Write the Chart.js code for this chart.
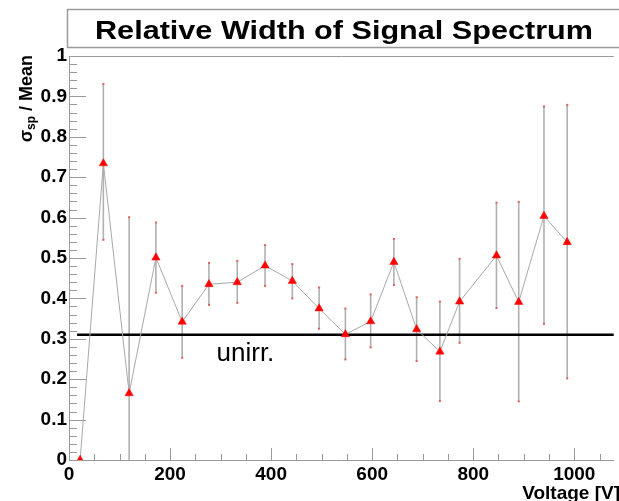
<!DOCTYPE html>
<html>
<head>
<meta charset="utf-8">
<script src="https://cdn.jsdelivr.net/npm/chart.js@4.4.1/dist/chart.umd.min.js"></script>
<style>
  html, body { margin: 0; padding: 0; background: #fff; }
  #wrap { width: 619px; height: 501px; position: relative; }
</style>
</head>
<body>
<div id="wrap"><canvas id="widthChart"></canvas></div>
<script>
// data
var voltage  = [22, 68, 119, 172, 224, 277, 333, 388, 442, 495, 547, 597, 643, 688, 734, 773, 846, 890, 940, 986];
var relWidth = [0, 0.734, 0.165, 0.501, 0.342, 0.435, 0.44, 0.481, 0.443, 0.375, 0.311, 0.343, 0.49, 0.3235, 0.268, 0.392, 0.506, 0.391, 0.604, 0.539];
var errUpper = [0, 0.931, 0.601, 0.588, 0.431, 0.488, 0.493, 0.532, 0.485, 0.427, 0.375, 0.41, 0.547, 0.403, 0.392, 0.498, 0.637, 0.639, 0.875, 0.879];
var errLower = [0, 0.545, 0, 0.414, 0.253, 0.384, 0.389, 0.431, 0.40, 0.325, 0.249, 0.279, 0.433, 0.245, 0.146, 0.29, 0.376, 0.145, 0.337, 0.202];
var unirrLevel = 0.31;
var unirrRange = [16, 1080];
var xTickLabels = [0, 200, 400, 600, 800, 1000];
var yTickLabels = [0, 0.1, 0.2, 0.3, 0.4, 0.5, 0.6, 0.7, 0.8, 0.9, 1];

var FRAME = '#9a9a9a';

// ROOT-like decorations: inward ticks, error bars, title box, axis titles
var rootStyle = {
    id: 'rootStyle',
    beforeDatasetsDraw: function (chart) {
        var ctx = chart.ctx, a = chart.chartArea;
        var xs = chart.scales.x, ys = chart.scales.y;
        ctx.save();
        // top frame line
        ctx.strokeStyle = FRAME;
        ctx.lineWidth = 1;
        ctx.beginPath();
        ctx.moveTo(a.left, a.top + 0.5);
        ctx.lineTo(a.right, a.top + 0.5);
        ctx.stroke();
        // y ticks pointing inward
        for (var i = 0; i <= 50; i++) {
            var py = Math.round(ys.getPixelForValue(i * 0.02)) + 0.5;
            var len = (i % 5 === 0) ? 17 : 8;
            ctx.beginPath();
            ctx.moveTo(a.left, py);
            ctx.lineTo(a.left + len, py);
            ctx.stroke();
        }
        // x ticks pointing inward
        for (var v = 0; v <= xs.max; v += 50) {
            var px = Math.round(xs.getPixelForValue(v)) + 0.5;
            var l2 = (v % 200 === 0) ? 12 : 6;
            ctx.beginPath();
            ctx.moveTo(px, a.bottom);
            ctx.lineTo(px, a.bottom - l2);
            ctx.stroke();
        }
        // error bars
        ctx.strokeStyle = '#b0b0b0';
        ctx.lineWidth = 1.6;
        for (var k = 0; k < voltage.length; k++) {
            if (errUpper[k] === errLower[k]) continue;
            var ex = xs.getPixelForValue(voltage[k]);
            var top = ys.getPixelForValue(errUpper[k]);
            var bot = ys.getPixelForValue(errLower[k]);
            ctx.beginPath();
            ctx.moveTo(ex, top);
            ctx.lineTo(ex, bot);
            ctx.stroke();
            ctx.fillStyle = '#e06060';
            ctx.fillRect(ex - 1, top - 1, 2, 2);
            if (errLower[k] > 0) ctx.fillRect(ex - 1, bot - 1, 2, 2);
        }
        ctx.restore();
    },
    afterDraw: function (chart) {
        var ctx = chart.ctx, a = chart.chartArea;
        var xs = chart.scales.x, ys = chart.scales.y;
        ctx.save();
        // title box
        ctx.fillStyle = '#fff';
        ctx.fillRect(67.5, 9.5, 600, 38);
        ctx.strokeStyle = FRAME;
        ctx.lineWidth = 1.5;
        ctx.strokeRect(67.5, 9.5, 600, 38);
        ctx.fillStyle = '#000';
        ctx.font = 'bold 26px "Liberation Sans", Arial, sans-serif';
        ctx.textBaseline = 'alphabetic';
        ctx.textAlign = 'center';
        var title = 'Relative Width of Signal Spectrum';
        var w = ctx.measureText(title).width;
        var sx = 498 / w;
        ctx.save();
        ctx.translate(344, 38.5);
        ctx.scale(sx, 1);
        ctx.fillText(title, 0, 0);
        ctx.restore();

        // x axis title
        ctx.font = 'bold 19px "Liberation Sans", Arial, sans-serif';
        ctx.textAlign = 'right';
        ctx.fillText('Voltage [V]', 620, 499);

        // y axis title with subscript
        ctx.save();
        ctx.translate(32, 55);
        ctx.rotate(-Math.PI / 2);
        ctx.textAlign = 'left';
        var big = 'bold 18px "Liberation Sans", Arial, sans-serif';
        var small = 'bold 12px "Liberation Sans", Arial, sans-serif';
        ctx.font = big;
        var wSig = ctx.measureText('\u03c3').width;
        var wRest = ctx.measureText(' / Mean').width;
        ctx.font = small;
        var wSub = ctx.measureText('sp').width;
        var x0 = -(wSig + wSub + wRest);
        ctx.font = big;
        ctx.fillText('\u03c3', x0, 0);
        ctx.font = small;
        ctx.fillText('sp', x0 + wSig, 3);
        ctx.font = big;
        ctx.fillText(' / Mean', x0 + wSig + wSub, 0);
        ctx.restore();

        // reference line label
        ctx.font = '26px "Liberation Sans", Arial, sans-serif';
        ctx.textAlign = 'left';
        ctx.fillText('unirr.', xs.getPixelForValue(292), ys.getPixelForValue(unirrLevel) + 26);
        ctx.restore();
    }
};

var chart = new Chart(document.getElementById('widthChart'), {
    type: 'scatter',
    data: {
        datasets: [{
            label: 'relative width',
            data: voltage.map(function (v, i) { return { x: v, y: relWidth[i] }; }),
            showLine: true,
            borderColor: '#a8a8a8',
            borderWidth: 1,
            pointStyle: 'triangle',
            pointRadius: 4.8,
            pointBackgroundColor: '#ff0000',
            pointBorderColor: '#ff0000',
            pointBorderWidth: 0.5
        }, {
            label: 'unirr.',
            data: unirrRange.map(function (v) { return { x: v, y: unirrLevel }; }),
            showLine: true,
            borderColor: '#000',
            borderWidth: 2.5,
            pointRadius: 0
        }]
    },
    options: {
        responsive: true,
        maintainAspectRatio: false,
        animation: false,
        layout: { padding: { top: 56, right: 0, left: 0, bottom: 0 } },
        plugins: { legend: { display: false }, tooltip: { enabled: false }, title: { display: false } },
        scales: {
            x: {
                type: 'linear',
                min: 0,
                max: 1078,
                afterBuildTicks: function (s) { s.ticks = xTickLabels.map(function (v) { return { value: v }; }); },
                afterFit: function (s) { s.height = 41; },
                grid: { display: false, drawTicks: false },
                border: { display: true, color: FRAME, width: 1 },
                ticks: {
                    autoSkip: false, maxRotation: 0, padding: 3, color: '#000',
                    callback: function (v) { return String(v); },
                    font: { family: '"Liberation Sans", Arial, sans-serif', size: 19, weight: 'bold' }
                }
            },
            y: {
                min: 0,
                max: 1,
                afterBuildTicks: function (s) { s.ticks = yTickLabels.map(function (v) { return { value: v }; }); },
                afterFit: function (s) { s.width = 69; },
                grid: { display: false, drawTicks: false },
                border: { display: true, color: FRAME, width: 1 },
                ticks: {
                    padding: 2, color: '#000',
                    callback: function (v) { return String(Math.round(v * 10) / 10); },
                    font: { family: '"Liberation Sans", Arial, sans-serif', size: 19, weight: 'bold' }
                }
            }
        }
    },
    plugins: [rootStyle]
});
</script>
</body>
</html>
